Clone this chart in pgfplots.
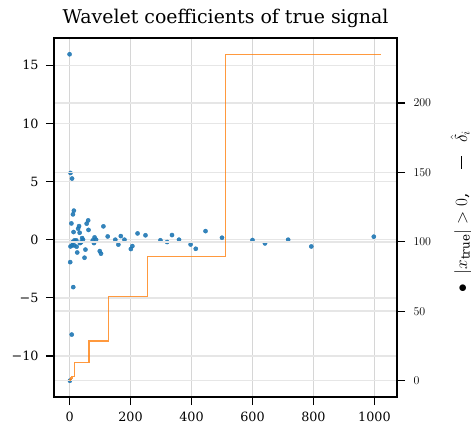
\documentclass[border=0pt]{standalone}
\usepackage{fontspec}
\setmainfont{DejaVu Serif}
\usepackage{pgfplots}
\pgfplotsset{compat=1.18}
\definecolor{tabblue}{HTML}{1F77B4}
\definecolor{taborange}{HTML}{FF7F0E}
\definecolor{hgrid}{HTML}{E6E6E6}
\definecolor{vgrid}{HTML}{D6D6D6}

\pgfplotsset{
  common/.style={
    scale only axis, width=343bp, height=359bp,
    xmin=-51.15, xmax=1074.15,
    tick align=outside,
    major tick length=8bp,
    every tick/.style={black, line width=1.3bp},
    tick label style={font=\fontsize{12.8}{14}\selectfont},
    axis line style={line width=1.8bp, black},
  }
}

\begin{document}
\begin{tikzpicture}
% wavelet coefficients (left axis)
\begin{axis}[common, name=main,
  ymin=-13.53, ymax=17.35,
  xtick={0,200,400,600,800,1000},
  xticklabels={0,200,400,600,800,1000},
  ytick={-10,-5,0,5,10,15},
  yticklabels={−10,−5,0,5,10,15},
  xtick pos=bottom, ytick pos=left,
  xticklabel style={yshift=-4bp},
  yticklabel style={xshift=-4bp},
  xmajorgrids, ymajorgrids,
  x grid style={vgrid, line width=1bp},
  y grid style={hgrid, line width=1.5bp},
  title={Wavelet coefficients of true signal},
  title style={font=\fontsize{19}{22}\selectfont, yshift=1bp},
]
\addplot[only marks, mark=*, mark size=2.1bp,
  mark options={fill=tabblue, draw=tabblue, fill opacity=0.9, draw opacity=0.9}]
coordinates {
(0,15.95) (1,-12.13) (3,5.74) (8,5.26) (14,2.5) (11,2.18) (6,1.4) (13,0.66)
(31,1.17) (28,0.95) (33,0.6) (56,1.38) (61,1.66) (62,0.84) (41,0.14) (44,0)
(16,-0.06) (22,-0.06) (10,-0.2) (8,-0.49) (3,-0.58) (15,-0.49) (23,-0.6)
(38,-0.22) (34,-0.29) (25,-1.1) (52,-0.85) (49,-1.55) (2,-1.93) (12,-4.08)
(7,-8.16) (76,-0.06) (82,0.2) (87,0) (80,-0.29) (99,-0.98) (103,-1.2)
(111,1.15) (125,0.28) (150,0) (160,-0.42) (168,0.31) (180,0) (201,-0.8)
(206,-0.55) (223,0.54) (249,0.38) (298,-0.05) (320,-0.2) (336,0.4) (359,0)
(397,-0.41) (414,-0.78) (446,0.74) (500,0.17) (600,-0.03) (641,-0.32)
(717,0) (793,-0.58) (998,0.26)
};
\end{axis}
% thresholds (right axis)
\begin{axis}[common,
  ymin=-11.75, ymax=246.75,
  xtick=\empty,
  ytick={0,50,100,150,200},
  ytick pos=right,
  yticklabel style={xshift=5bp},
  ymajorgrids,
  y grid style={hgrid, line width=1.5bp},
  ylabel={$\bullet$\hspace{10bp}$|x_{\mathrm{true}}|>0$,\hspace{25bp}\rule[0.3em]{13bp}{1.5bp}\hspace{13bp}$\hat{\delta}_i$},
  ylabel style={font=\fontsize{17}{19}\selectfont, at={(axis description cs:1.1866,0.516)}, anchor=center},
]
\addplot[taborange, line width=1.5bp, opacity=0.8, const plot mark left]
coordinates {
(0,0) (2,1) (4,2) (8,3) (16,13.2) (64,28.4) (128,60.6) (256,89.3) (512,235) (1023,235)
};
\end{axis}
\pgfresetboundingbox
\path ([xshift=-54bp,yshift=-31bp]main.south west) rectangle ++(471bp,428bp);
\end{tikzpicture}
\end{document}
